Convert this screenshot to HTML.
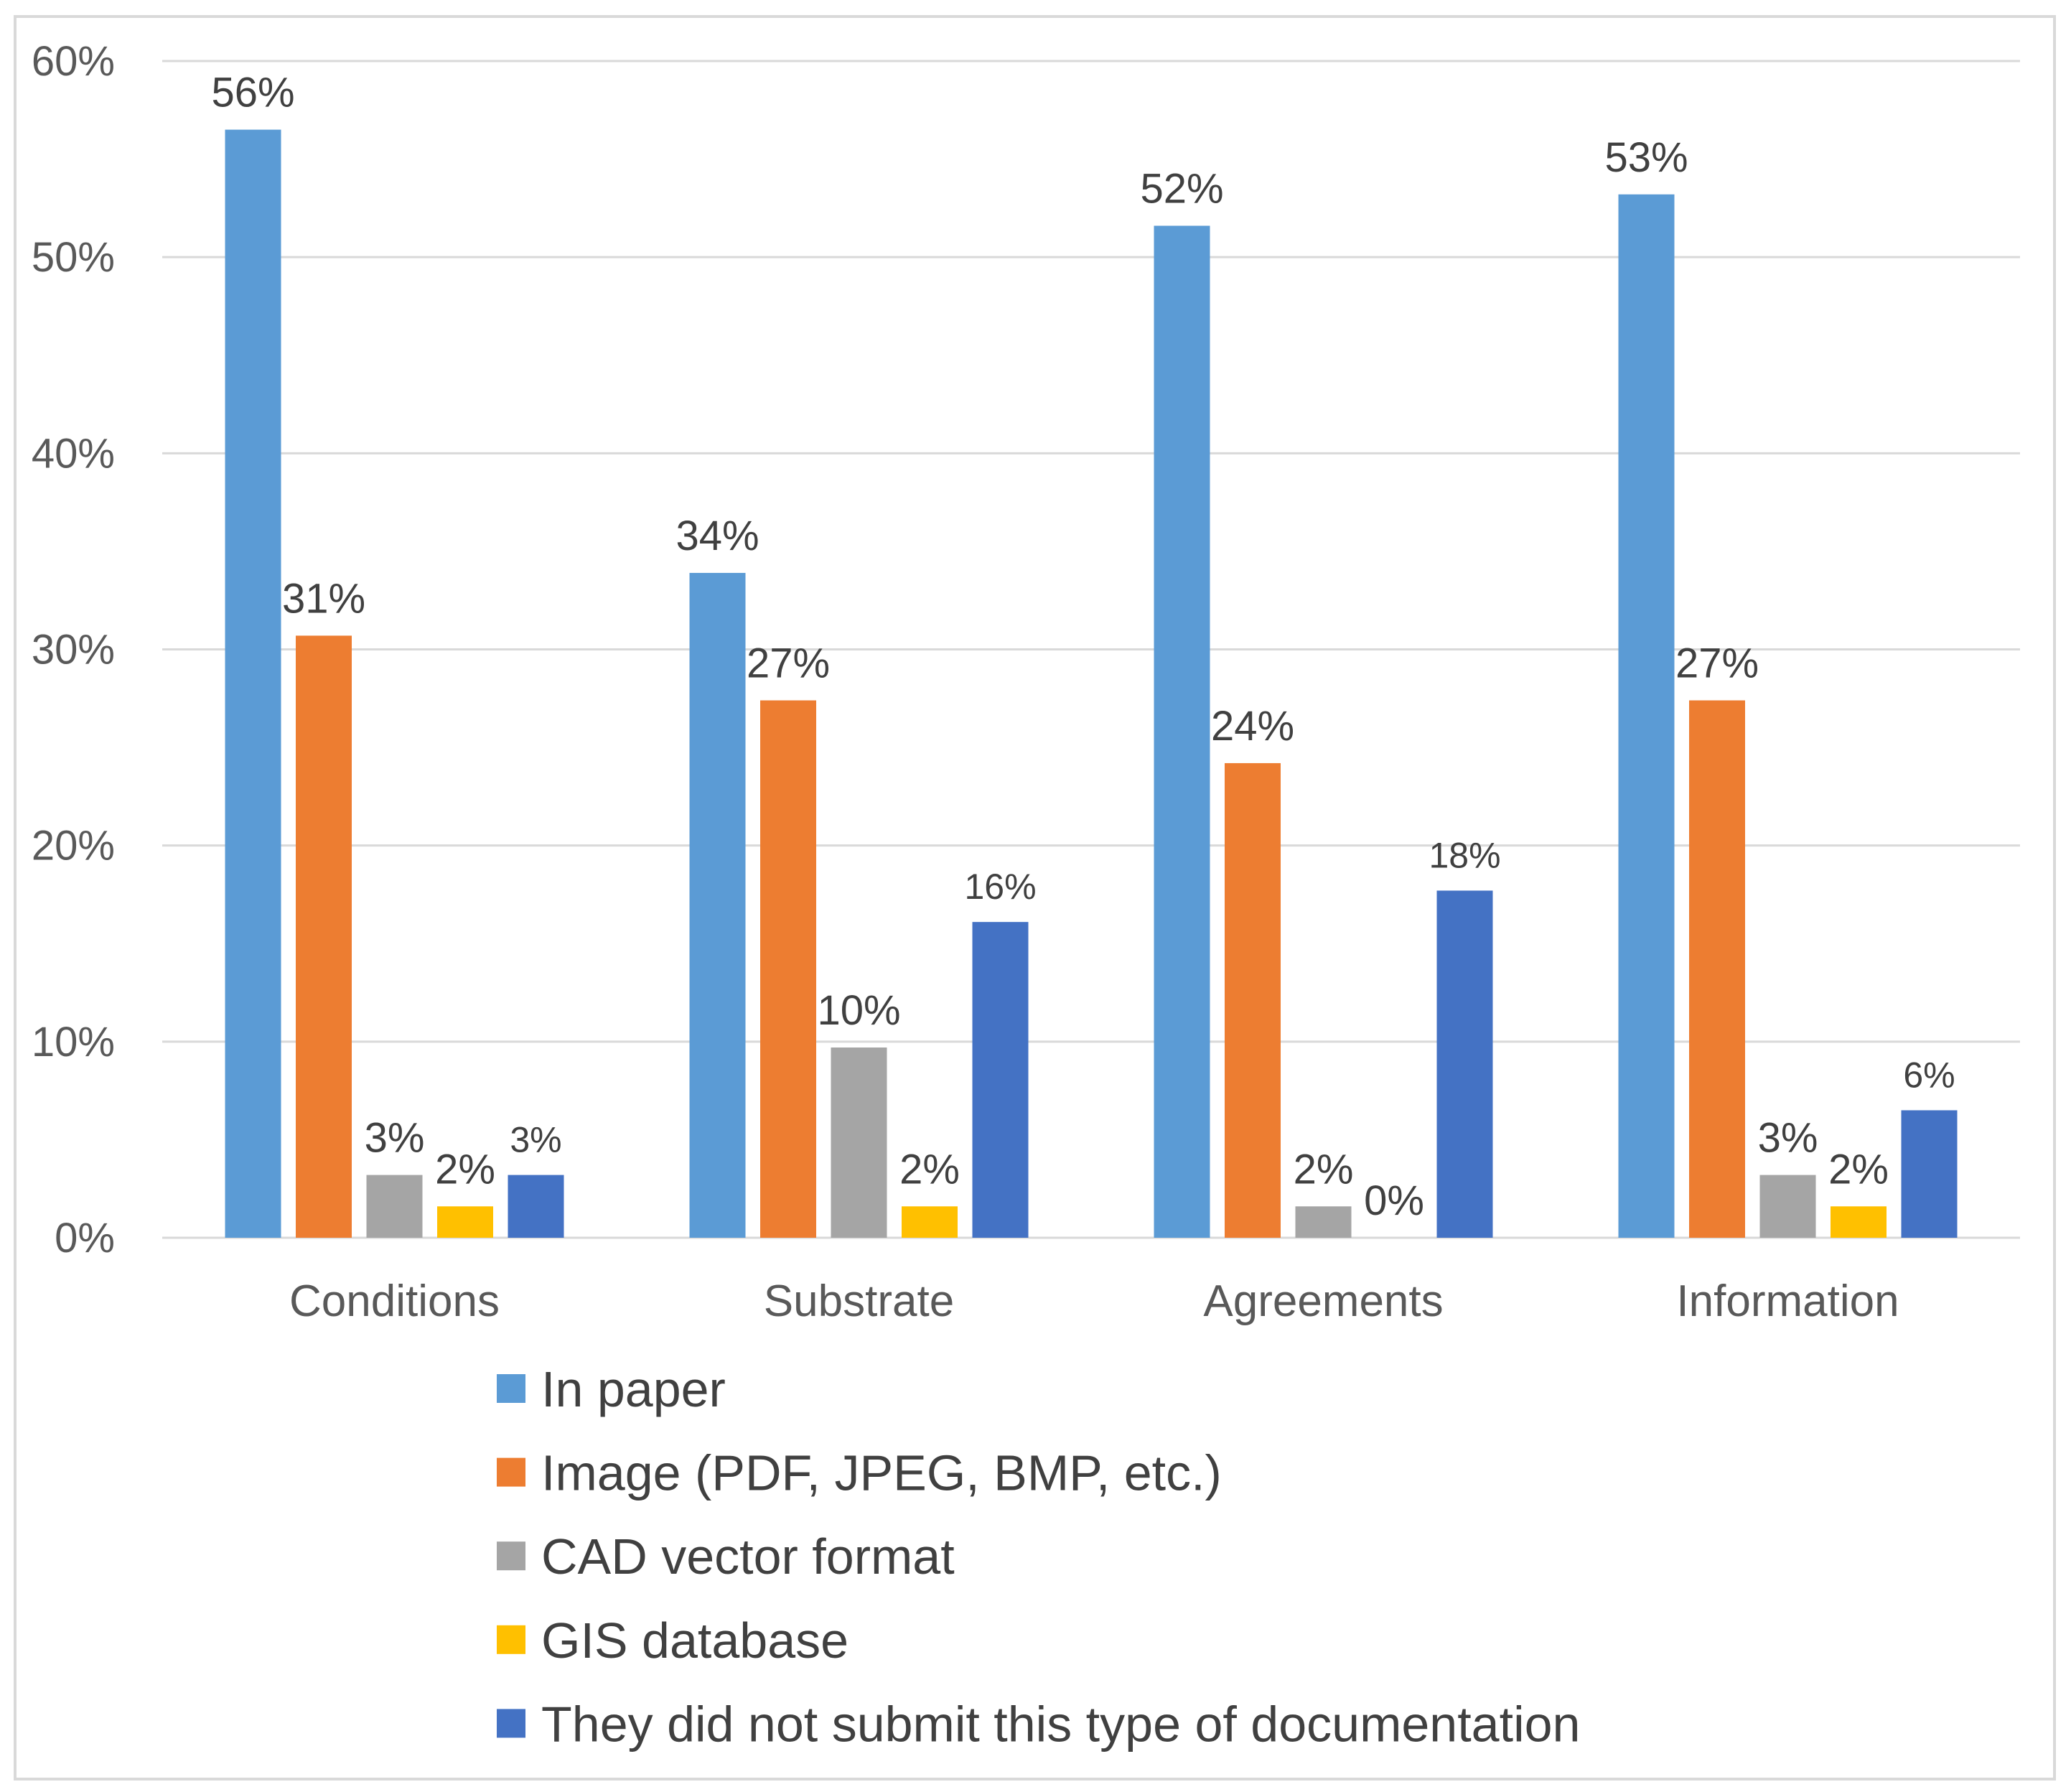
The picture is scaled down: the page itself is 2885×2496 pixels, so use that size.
<!DOCTYPE html>
<html><head><meta charset="utf-8"><style>
html,body{margin:0;padding:0;background:#fff;}
svg{display:block;font-family:"Liberation Sans",sans-serif;}
</style></head><body>
<svg id="chart" width="2885" height="2496" viewBox="0 0 2885 2496" xmlns="http://www.w3.org/2000/svg">
<rect x="21" y="23" width="2841" height="2455" fill="#fff" stroke="#d9d9d9" stroke-width="4"/>
<g id="grid"></g><g id="bars"></g><g id="labels"></g><g id="legend"></g>
</svg>
<script>
const categories = ["Conditions","Substrate","Agreements","Information"];
const seriesNames = ["In paper","Image (PDF, JPEG, BMP, etc.)","CAD vector format","GIS database","They did not submit this type of documentation"];
const seriesColors = ["#5b9bd5","#ed7d31","#a5a5a5","#ffc000","#4472c4"];
const inPaper = [56.5,33.9,51.6,53.2];
const imageFmt = [30.7,27.4,24.2,27.4];
const cadFmt = [3.2,9.7,1.6,3.2];
const gisDb = [1.6,1.6,0,1.6];
const notSubmitted = [3.2,16.1,17.7,6.5];
const valueLabels = [["56%","34%","52%","53%"],["31%","27%","24%","27%"],["3%","10%","2%","3%"],["2%","2%","0%","2%"],["3%","16%","18%","6%"]];
const yTicks = [0,10,20,30,40,50,60];
const yTickLabels = ["0%","10%","20%","30%","40%","50%","60%"];

const series = [inPaper,imageFmt,cadFmt,gisDb,notSubmitted];
const NS="http://www.w3.org/2000/svg";
const plotL=226, plotR=2814, y0=1724, y60=85;
const yScale=v=>y0-(v/60)*(y0-y60);
const catW=(plotR-plotL)/categories.length;
const barW=78, step=98.5;
const xBar=(c,s)=>plotL+catW*(c+0.5)+(s-2)*step-barW/2;
function mk(tag,attrs,parent){const e=document.createElementNS(NS,tag);for(const k in attrs)e.setAttribute(k,attrs[k]);parent.appendChild(e);return e;}
const grid=document.getElementById('grid'),bars=document.getElementById('bars'),labels=document.getElementById('labels'),legend=document.getElementById('legend');
yTicks.forEach((t,i)=>{
  const y=yScale(t);
  const ln=mk('line',{x1:plotL,x2:plotR,y1:y,y2:y,stroke:'#d9d9d9','stroke-width':3},grid);
  
  
  const tx=mk('text',{x:160,y:y+20,'text-anchor':'end','font-size':58,fill:'#595959'},grid);
  tx.textContent=yTickLabels[i];
  
  
});
categories.forEach((c,ci)=>{
  const tx=mk('text',{x:plotL+catW*(ci+0.5),y:1833,'text-anchor':'middle','font-size':62,fill:'#595959'},labels);
  tx.textContent=c;
  
  
  series.forEach((arr,si)=>{
    const v=arr[ci],x=xBar(ci,si),y=yScale(v);
    const r=mk('rect',{x:x,y:y,width:barW,height:y0-y,fill:seriesColors[si]},bars);
    
    
    const fs=si===4?50:58;
    const t=mk('text',{x:x+barW/2,y:y-32,'text-anchor':'middle','font-size':fs,fill:'#404040'},labels);
    t.textContent=valueLabels[si][ci];
    
    
  });
});
seriesNames.forEach((n,i)=>{
  const cy=1934+i*116.6;
  const r=mk('rect',{x:692,y:cy-20,width:40,height:40,fill:seriesColors[i]},legend);
  
  
  const t=mk('text',{x:754,y:cy+25,'font-size':70,fill:'#404040'},legend);
  t.textContent=n;
  
  
});
</script>
</body></html>
